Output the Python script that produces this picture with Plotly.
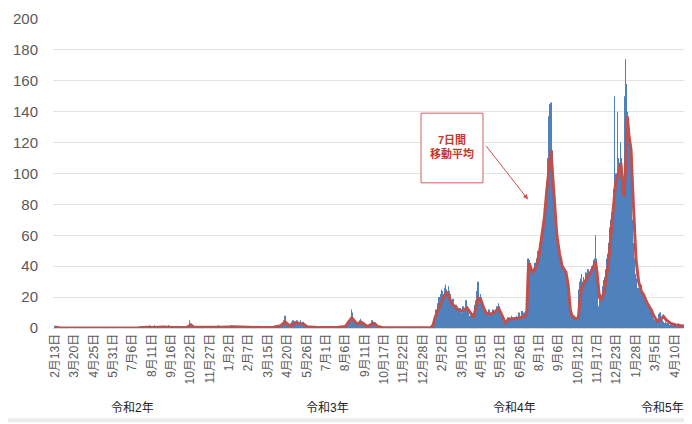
import pandas as pd
import plotly.graph_objects as go

# ---------------- data (daily counts) ----------------
start_date = "2020-02-13"

daily_2020 = [
    1,0,0,0,0,0,0,0,0,0, 0,0,0,0,0,0,0,                                  # Feb 13-29
    0,0,0,0,0,0,0,0,0,0, 0,0,0,0,0,0,0,0,0,0, 0,0,0,0,0,0,0,0,0,0, 0,      # Mar
    0,0,0,0,0,0,0,0,0,0, 0,0,0,0,0,0,0,0,0,0, 0,0,0,0,0,0,0,0,0,0,         # Apr
    0,0,0,0,0,0,0,0,0,0, 0,0,0,0,0,0,0,0,0,0, 0,0,0,0,0,0,0,0,0,0, 0,      # May
    0,0,0,0,0,0,0,0,0,0, 0,0,0,0,0,0,0,0,0,0, 0,0,0,0,0,0,0,0,0,0,         # Jun
    0,0,0,0,0,0,0,0,0,0, 0,0,0,0,0,0,0,0,0,0, 0,1,0,0,0,1,0,0,0,1, 0,      # Jul
    1,0,0,1,0,0,2,0,1,0, 0,0,1,0,0,2,1,0,0,0, 1,0,0,0,0,1,0,0,1,0, 0,      # Aug
    1,0,0,1,0,0,0,1,0,0, 2,0,0,1,0,0,0,0,1,0, 0,0,0,0,1,0,0,0,0,0,         # Sep
    0,0,0,0,0,0,0,0,0,0, 0,0,0,0,0,0,0,1,2,5, 3,2,1,0,0,1,0,0,0,0, 0,      # Oct
    0,1,0,0,0,0,1,0,0,0, 0,1,0,0,0,0,1,0,0,0, 0,0,1,0,0,0,1,0,0,0,         # Nov
    0,1,0,0,1,0,0,0,1,0, 0,0,2,0,0,1,0,0,0,0, 1,0,0,1,0,0,0,1,0,0, 0,      # Dec
]
daily_2021 = [
    1,0,1,0,0,2,1,0,0,1, 0,1,0,0,1,0,0,1,0,0, 0,1,0,0,1,0,0,0,1,0, 0,      # Jan
    0,0,1,0,0,0,0,1,0,0, 0,0,1,0,0,0,0,0,1,0, 0,0,0,0,1,0,0,0,             # Feb
    0,0,0,0,1,0,0,0,0,0, 0,1,0,0,0,0,0,1,0,0, 0,0,1,0,0,1,0,0,1,0, 1,      # Mar
    0,1,0,0,1,0,2,1,2,1, 3,2,4,5,3,8,6,4,2,1, 1,2,1,2,1,2,3,2,4,3,         # Apr
    5,4,3,2,4,3,2,5,3,2, 4,3,2,3,5,2,3,2,4,1, 3,2,1,2,1,0,1,0,0,1, 0,      # May
    0,0,1,0,0,0,0,0,1,0, 0,0,0,0,0,1,0,0,0,0, 0,0,0,1,0,0,0,0,0,0,         # Jun
    0,0,0,0,0,1,0,0,0,0, 0,0,0,0,1,0,0,0,0,0, 0,0,0,1,0,0,0,1,0,1, 0,      # Jul
    0,1,0,1,0,1,2,1,2,3, 3,4,5,6,5,7,12,10,6,5, 6,4,3,4,2,3,2,1,3,2, 4,    # Aug
    3,5,6,4,3,2,3,2,4,3, 2,1,2,1,0,1,0,1,0,2, 1,2,3,5,3,4,2,3,2,3,         # Sep
    1,2,1,0,1,0,0,1,0,0, 0,0,0,1,0,0,0,0,0,0, 0,0,0,0,0,0,0,0,0,0, 0,      # Oct
    0,0,0,0,0,0,0,0,0,0, 0,0,0,0,0,0,0,0,0,0, 0,0,0,0,0,0,0,0,0,0,         # Nov
    0,0,0,0,0,0,0,0,0,0, 0,0,0,0,0,0,0,0,0,0, 0,0,0,0,0,0,0,0,0,0, 0,      # Dec
]
daily_2022 = [
    0,0,0,0,0,0,0,0,0,0, 0,0,0,1,2,3,4,6,8,10, 12,10,9,14,16,18,20,19,17,14, 22,   # Jan
    25,24,22,20,18,16,26, 28,25,24,22,20,17,27, 24,22,19,17,15,14,18, 19,16,14,13,12,11,15,  # Feb
    14,12,11,10,9,12,13, 11,10,9,8,11,14,13, 12,11,16,18,14,13,12, 10,9,8,7,6,8,9, 7,6,5,  # Mar
    8,10,12,15,18,17,20, 24,30,22,19,18,16,22, 20,17,15,13,12,10,9, 11,12,10,9,8,9,10, 11,12,  # Apr
    10,9,8,7,9,10,12, 11,10,9,8,10,12,13, 14,12,11,16,14,12,10, 8,7,6,5,4,3,3, 4,2,3,  # May
    4,5,6,7,5,6,7, 5,4,6,8,7,6,5, 6,7,5,6,7,8,6, 5,7,9,10,8,7,6, 9,11,  # Jun
    8,7,9,10,8,9,11, 10,12, 40,45,42,44,38, 35,40,36,34,38,35,37, 33,39,42,38,40,45,44, 47,50,48,  # Jul
    50,52,55,48,58,62,60, 65,70,68,75,80,72,78, 85,95,100,110,137,145,120, 105,146,130,115,98,90,85, 80,75,65,  # Aug
    60,55,58,50,48,45,52, 40,38,42,45,36,35,38, 40,37,34,36,38,35,33, 30,25,20,15,12,10,9, 8,7,  # Sep
    8,6,7,5,6,8,7, 5,6,7,5,6,8, 25,28,30,26,32,35,28, 27,30,33,29,26,31,36, 34,30,35,38,  # Oct
    34,36,35,33,38,40,36, 38,40,42,44,38,45,60, 45,40,35,18,14,12,16, 20,22,18,17,21,25,27, 29,31,  # Nov
    33,35,38,40,45,48,42, 50,55,60,65,58,70,75, 72,80,85,90,150,88,95, 100,92,98,140,105,110,102, 95,120,110,  # Dec
]
daily_2023 = [
    85,80,75,90,82,78,95, 150,174,158,140,135,130,120, 125,115,110,100,95,85,70, 60,55,45,40,35,30,32, 28,25,22,  # Jan
    26,24,22,25,20,28,24, 22,20,18,19,22,20,18, 16,15,17,14,12,13,15, 12,11,10,12,9,8,7,  # Feb
    6,5,4,5,3,4,3, 4,5,6,8,9,7,10, 8,6,5,4,3,4,3, 2,3,4,3,2,3,2, 3,4,2,  # Mar
    2,3,2,1,2,3,2, 1,2,3,2,1,1,2, 1,2,3,2,1,2,1, 0,1,2,1,1,0,1, 2,1,  # Apr
    1,2,1,0,1,3,2,5,  # May 1-8
]

# 7-day moving average
ma_dates = [
    "2020-02-13","2020-02-20","2020-07-15","2020-08-01","2020-08-15","2020-09-01","2020-09-20",
    "2020-10-15","2020-10-20","2020-10-23","2020-10-28","2020-11-10","2020-12-01","2020-12-20",
    "2021-01-10","2021-02-01","2021-03-01","2021-03-25","2021-04-08","2021-04-16","2021-04-22",
    "2021-04-28","2021-05-04","2021-05-12","2021-05-20","2021-05-27","2021-06-15","2021-07-20",
    "2021-08-06","2021-08-12","2021-08-18","2021-08-24","2021-08-29","2021-09-04","2021-09-10",
    "2021-09-16","2021-09-24","2021-09-29","2021-10-05","2021-10-15","2022-01-12","2022-01-16",
    "2022-01-20","2022-01-27","2022-02-03","2022-02-10","2022-02-15","2022-02-19","2022-02-26",
    "2022-03-03","2022-03-09","2022-03-14","2022-03-20","2022-03-26","2022-04-01","2022-04-05",
    "2022-04-10","2022-04-15","2022-04-20","2022-04-25","2022-05-02","2022-05-10","2022-05-18",
    "2022-05-23","2022-05-30","2022-06-05","2022-06-15","2022-06-25","2022-07-05","2022-07-09",
    "2022-07-12","2022-07-14","2022-07-19","2022-07-25","2022-08-01","2022-08-06","2022-08-11",
    "2022-08-15","2022-08-18","2022-08-23","2022-08-27","2022-08-31","2022-09-03","2022-09-08",
    "2022-09-13","2022-09-20","2022-09-24","2022-09-28","2022-10-01","2022-10-08","2022-10-13",
    "2022-10-16","2022-10-19","2022-10-25","2022-11-01","2022-11-08","2022-11-14","2022-11-17",
    "2022-11-21","2022-11-25","2022-11-30","2022-12-03","2022-12-08","2022-12-12","2022-12-17",
    "2022-12-21","2022-12-26","2022-12-31","2023-01-04","2023-01-06","2023-01-09","2023-01-12",
    "2023-01-15","2023-01-19","2023-01-22","2023-01-25","2023-01-28","2023-02-02","2023-02-07",
    "2023-02-12","2023-02-18","2023-02-25","2023-03-02","2023-03-08","2023-03-14","2023-03-20",
    "2023-03-26","2023-04-03","2023-04-12","2023-04-22","2023-05-01","2023-05-05","2023-05-08",
]
ma_values = [
    0.6,0.2,0,0.5,0.4,0.6,0.3,
    0.3,1.5,2,0.5,0.4,0.6,0.5,
    0.8,0.5,0.3,0.5,1.5,4,2,
    1.5,3.5,3,2.5,0.8,0.3,0.3,
    1,4,6.5,4,2.5,3.8,2.5,
    1,2.5,3,1,0.2,0.2,2,
    7,13,19,23,20,16,14,
    12,11,11.5,13,10,7,12,
    19.5,18,13,9.5,9,10,12.7,
    9,3.5,5.5,6,6.5,7.5,9,
    38,42,36,38,47,58,72,
    88,98,115,95,77,60,48,
    40,36,28,12,8,6,6.5,
    18,26,30,34,38,43,35,
    20,18,24,30,42,58,78,
    93,100,107,90,85,105,137,
    125,115,90,62,45,30,24,
    21,16,12,8,4.5,5,7.5,
    5,3,2,1.5,1,1.5,2.2,
]

tick_dates = [
    "2020-02-13","2020-03-20","2020-04-25","2020-05-31","2020-07-06","2020-08-11","2020-09-16",
    "2020-10-22","2020-11-27","2021-01-02","2021-02-07","2021-03-15","2021-04-20","2021-05-26",
    "2021-07-01","2021-08-06","2021-09-11","2021-10-17","2021-11-22","2021-12-28","2022-02-02",
    "2022-03-10","2022-04-15","2022-05-21","2022-06-26","2022-08-01","2022-09-06","2022-10-12",
    "2022-11-17","2022-12-23","2023-01-28","2023-03-05","2023-04-10",
]
tick_labels = [
    "2月13日","3月20日","4月25日","5月31日","7月6日","8月11日","9月16日",
    "10月22日","11月27日","1月2日","2月7日","3月15日","4月20日","5月26日",
    "7月1日","8月6日","9月11日","10月17日","11月22日","12月28日","2月2日",
    "3月10日","4月15日","5月21日","6月26日","8月1日","9月6日","10月12日",
    "11月17日","12月23日","1月28日","3月5日","4月10日",
]
year_labels = ["令和2年", "令和3年", "令和4年", "令和5年"]
year_label_dates = ["2020-07-07", "2021-07-04", "2022-06-17", "2023-03-19"]

# ---------------- figure ----------------
daily = daily_2020 + daily_2021 + daily_2022 + daily_2023
dates = pd.date_range(start_date, periods=len(daily), freq="D")

FONT = "Liberation Sans, Noto Sans CJK JP, sans-serif"
BLUE = "#4f81bd"
RED = "#c0504d"

fig = go.Figure()
fig.add_trace(go.Bar(x=dates, y=daily, marker=dict(color=BLUE, line=dict(width=0)),
                     showlegend=False))
fig.add_trace(go.Scatter(x=pd.to_datetime(ma_dates), y=ma_values, mode="lines",
                         line=dict(color=RED, width=3), showlegend=False))

# page is 692x424 but the html body has an 8px margin -> compensate
OFF = 8
PAGE_W, PAGE_H = 692, 424
W, H = PAGE_W - OFF, PAGE_H - OFF
PL, PR, PT, PB = 53, 690, 13, 328      # plot area in page pixels
L, T = PL - OFF, PT - OFF
R, B = PAGE_W - PR, PAGE_H - PB
pw, ph = PR - PL, PB - PT

def px(xp):
    return (xp - PL) / pw

def py(yp):
    return (PB - yp) / ph

annotations = []
for lab, d in zip(year_labels, year_label_dates):
    annotations.append(dict(x=d, xref="x", y=py(410), yref="paper", text=lab,
                            showarrow=False, xanchor="center", yanchor="middle",
                            font=dict(family=FONT, size=12, color="#222222")))
annotations.append(dict(x=px(452), y=py(143), xref="paper", yref="paper",
                        text="<b>7日間<br>移動平均</b>", showarrow=False,
                        xanchor="center", yanchor="middle",
                        font=dict(family=FONT, size=11, color="#c0392b")))
annotations.append(dict(x=px(528), y=py(197), xref="paper", yref="paper", text="",
                        showarrow=True, arrowhead=2, arrowsize=1, arrowwidth=1,
                        arrowcolor="#d05050", ax=-43, ay=-55))

shapes = [
    dict(type="rect", xref="paper", yref="paper", x0=px(421), x1=px(483),
         y0=py(180), y1=py(109), line=dict(color="#d06060", width=1), fillcolor="white"),
    dict(type="rect", xref="paper", yref="paper", x0=px(OFF), x1=px(PAGE_W),
         y0=py(PAGE_H), y1=py(420), line=dict(width=0), fillcolor="#ececec", layer="below"),
]

fig.update_layout(
    width=W, height=H, autosize=False,
    margin=dict(l=L, r=R, t=T, b=B, pad=0),
    paper_bgcolor="white", plot_bgcolor="white",
    bargap=0.06, barmode="overlay",
    font=dict(family=FONT, color="#595959"),
    annotations=annotations, shapes=shapes,
    xaxis=dict(type="date", range=["2020-02-09 12:00", "2023-05-08 12:00"],
               tickmode="array", tickvals=tick_dates, ticktext=tick_labels,
               tickangle=-90, tickfont=dict(family=FONT, size=12, color="#595959"),
               showgrid=False, showline=True, linecolor="#d9d9d9", linewidth=1,
               ticks="", zeroline=False, ticklabeloverflow="allow"),
    yaxis=dict(range=[0, 200], tickmode="array", tickvals=list(range(0, 201, 20)),
               tickfont=dict(family=FONT, size=15, color="#595959"),
               showgrid=True, gridcolor="#e3e3e3", gridwidth=1, zeroline=False,
               showline=False, ticks="", ticklabelstandoff=14,
               ticklabeloverflow="allow"),
)

fig.write_html("out.html")
